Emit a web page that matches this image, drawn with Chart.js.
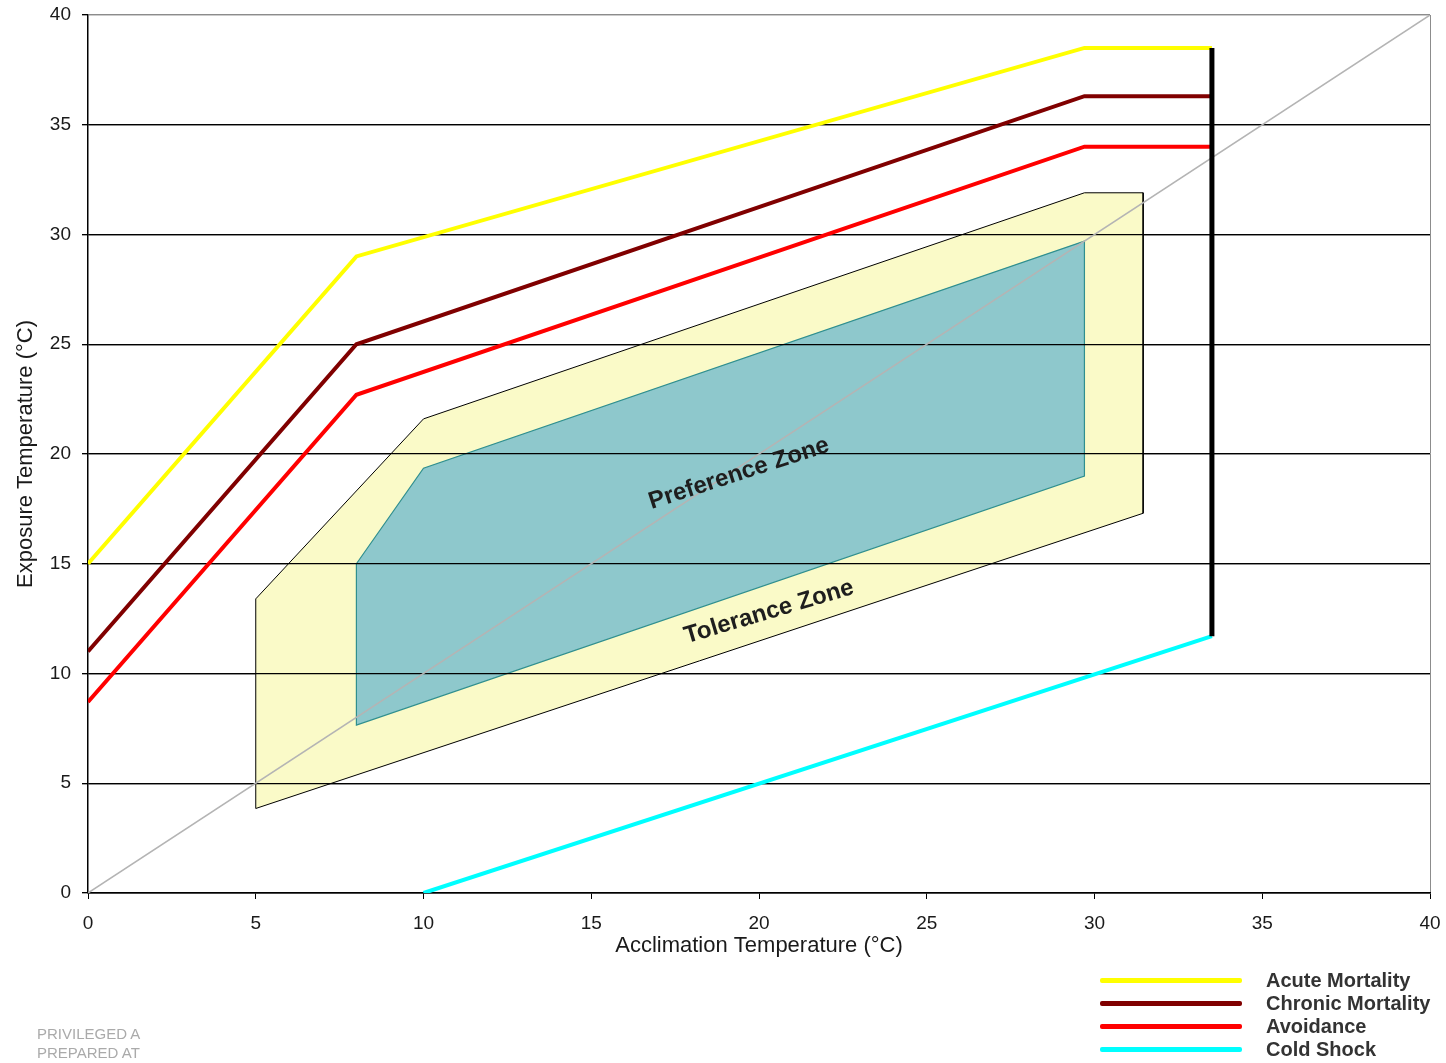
<!DOCTYPE html>
<html>
<head>
<meta charset="utf-8">
<script src="https://cdn.jsdelivr.net/npm/chart.js@4/dist/chart.umd.min.js"></script>
<style>
    html, body { margin: 0; padding: 0; background: #fff; }
    #wrap { position: relative; width: 1446px; height: 1063px; font-family: 'Liberation Sans', Arial, sans-serif; }
    #legend { position: absolute; left: 1100px; top: 969px; }
    .leg-item { display: flex; align-items: center; height: 23px; }
    .leg-line { width: 142px; height: 5px; border-radius: 2px; margin-right: 24px; }
    .leg-text { font-weight: bold; font-size: 20px; color: #333; white-space: nowrap; }
    #footer { position: absolute; left: 37px; top: 1024px; width: 108px; overflow: hidden;
              font-size: 15px; line-height: 19px; color: #aaa; white-space: nowrap; }
</style>
</head>
<body>
<div id="wrap">
    <canvas id="zoneChart" width="1446" height="1063"></canvas>
    <div id="legend"></div>
    <div id="footer">PRIVILEGED A<br>PREPARED AT</div>
</div>
<script>
// --- data (acclimation °C -> exposure °C) ---
const xTicks = [0, 5, 10, 15, 20, 25, 30, 35, 40];
const yTicks = [0, 5, 10, 15, 20, 25, 30, 35, 40];

const acuteX = [0, 8, 29.7, 33.5];
const acuteY = [15, 29, 38.5, 38.5];
const chronicX = [0, 8, 29.7, 33.5];
const chronicY = [11, 25, 36.3, 36.3];
const avoidX = [0, 8, 29.7, 33.5];
const avoidY = [8.7, 22.7, 34, 34];
const coldX = [10, 33.5];
const coldY = [0, 11.7];
const limitX = [33.5, 33.5];
const limitY = [38.5, 11.7];
const diagX = [0, 40];
const diagY = [0, 40];

// zones are closed polygons
const tolX = [5, 10, 29.7, 31.45, 31.45, 5, 5];
const tolY = [13.4, 21.6, 31.9, 31.9, 17.3, 3.85, 13.4];
const prefX = [8, 10, 29.7, 29.7, 8, 8];
const prefY = [15, 19.35, 29.7, 19.0, 7.65, 15];

const toPoints = (xs, ys) => xs.map((x, i) => ({ x: x, y: ys[i] }));

// zone captions, anchored in data units
const zoneLabels = [
    { text: 'Preference Zone', x: 19.4, y: 19.1, angle: -18 },
    { text: 'Tolerance Zone', x: 20.3, y: 12.8, angle: -16.5 }
];

const FONT = "'Liberation Sans', Arial, sans-serif";

function lineSet(label, xs, ys, color, width, order) {
    return {
        label: label,
        data: toPoints(xs, ys),
        borderColor: color,
        backgroundColor: color,
        borderWidth: width,
        pointRadius: 0,
        tension: 0,
        fill: false,
        order: order
    };
}

const datasets = [
    lineSet('Acute Mortality', acuteX, acuteY, '#ffff00', 4, 2),
    lineSet('Chronic Mortality', chronicX, chronicY, '#800000', 4, 3),
    lineSet('Avoidance', avoidX, avoidY, '#ff0000', 4, 4),
    lineSet('Cold Shock', coldX, coldY, '#00ffff', 4, 5),
    lineSet('limit', limitX, limitY, '#000000', 5, 1),
    lineSet('diagonal', diagX, diagY, '#b4b4b4', 1.5, 8),
    Object.assign(lineSet('Preference Zone', prefX, prefY, '#2f8f8f', 1.2, 9),
        { fill: 'shape', backgroundColor: '#8ec8cc' }),
    Object.assign(lineSet('Tolerance Zone', tolX, tolY, '#000000', 1, 10),
        { fill: 'shape', backgroundColor: '#fafac8' })
];

const legendItems = ['Acute Mortality', 'Chronic Mortality', 'Avoidance', 'Cold Shock'];

// gridlines sit on top of the zone fills but under the curves
const gridOverZones = {
    id: 'gridOverZones',
    afterDatasetDraw(chart, args) {
        if (chart.data.datasets[args.index].label !== 'Preference Zone') return;
        const ctx = chart.ctx;
        ctx.save();
        chart.scales.y.drawGrid(chart.chartArea);
        ctx.restore();
    }
};

const zoneText = {
    id: 'zoneText',
    afterDatasetsDraw(chart) {
        const ctx = chart.ctx;
        ctx.save();
        ctx.font = 'bold 24px ' + FONT;
        ctx.fillStyle = '#1e1e1e';
        ctx.textAlign = 'center';
        ctx.textBaseline = 'middle';
        zoneLabels.forEach(z => {
            ctx.save();
            ctx.translate(chart.scales.x.getPixelForValue(z.x), chart.scales.y.getPixelForValue(z.y));
            ctx.rotate(z.angle * Math.PI / 180);
            ctx.fillText(z.text, 0, 0);
            ctx.restore();
        });
        ctx.restore();
    }
};

new Chart(document.getElementById('zoneChart').getContext('2d'), {
    type: 'line',
    data: { datasets: datasets },
    plugins: [gridOverZones, zoneText],
    options: {
        responsive: false,
        animation: false,
        layout: { padding: { top: 15, right: 16, bottom: 104, left: 0 } },
        plugins: {
            legend: { display: false },
            tooltip: { enabled: false }
        },
        scales: {
            x: {
                type: 'linear',
                min: 0,
                max: 40,
                afterBuildTicks: s => { s.ticks = xTicks.map(v => ({ value: v })); },
                afterFit: s => { s.height = 66; s.paddingLeft = 0; s.paddingRight = 0; },
                border: { color: '#000', width: 1.5 },
                grid: {
                    drawOnChartArea: true,
                    color: c => (c.tick && c.tick.value === 40) ? '#8c8c8c' : 'rgba(0,0,0,0)',
                    tickColor: '#000',
                    tickLength: 6
                },
                ticks: { padding: 13, color: '#1a1a1a', font: { family: FONT, size: 19 } },
                title: {
                    display: true,
                    text: 'Acclimation Temperature (°C)',
                    color: '#1a1a1a',
                    font: { family: FONT, size: 22 },
                    padding: { top: 0, bottom: 0 }
                }
            },
            y: {
                type: 'linear',
                min: 0,
                max: 40,
                afterBuildTicks: s => { s.ticks = yTicks.map(v => ({ value: v })); },
                afterFit: s => { s.width = 88; s.paddingTop = 0; s.paddingBottom = 0; },
                border: { color: '#000', width: 1.5 },
                grid: {
                    color: c => (c.tick && c.tick.value === 40) ? '#8c8c8c' : '#000',
                    lineWidth: 1.2,
                    tickColor: '#000',
                    tickLength: 6
                },
                ticks: { padding: 11, color: '#1a1a1a', font: { family: FONT, size: 19 } },
                title: {
                    display: true,
                    text: 'Exposure Temperature (°C)',
                    color: '#1a1a1a',
                    font: { family: FONT, size: 22 },
                    padding: { top: 13, bottom: 0 }
                }
            }
        }
    }
});

// html legend, built from the same datasets
const legendEl = document.getElementById('legend');
legendItems.forEach(name => {
    const ds = datasets.find(d => d.label === name);
    legendEl.innerHTML += `<div class="leg-item"><div class="leg-line" style="background:${ds.borderColor}"></div><span class="leg-text">${name}</span></div>`;
});
</script>
</body>
</html>
